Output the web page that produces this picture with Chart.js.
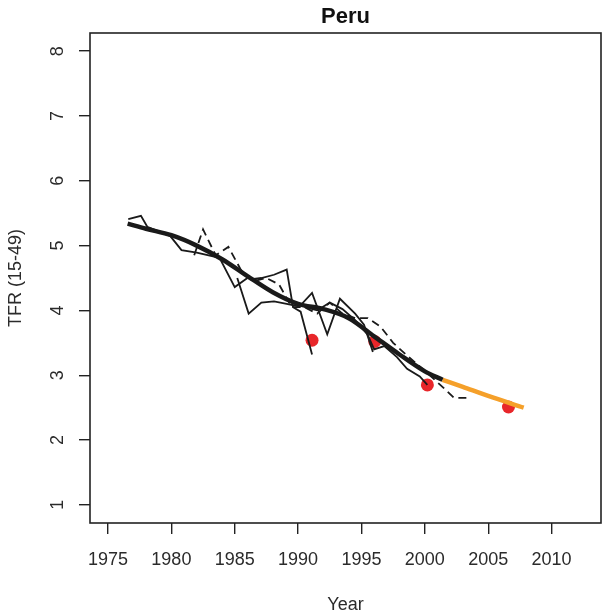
<!DOCTYPE html>
<html><head><meta charset="utf-8">
<script src="https://cdn.jsdelivr.net/npm/chart.js@4/dist/chart.umd.min.js"></script>
<style>html,body{margin:0;padding:0;background:#fff;overflow:hidden;}canvas{display:block;}</style>
</head><body>
<canvas id="c" width="602" height="612"></canvas>
<script>
const chartTitle = "Peru";
const xTitle = "Year";
const yTitle = "TFR (15-49)";
const xTicks = [1975, 1980, 1985, 1990, 1995, 2000, 2005, 2010];
const yTicks = [1, 2, 3, 4, 5, 6, 7, 8];

// thin solid survey series
const s1Years = [1976.6, 1977.6, 1978.1, 1979.9, 1980.8, 1982.0, 1983.8, 1985.0, 1986.0];
const s1Tfr   = [5.41, 5.46, 5.29, 5.15, 4.93, 4.89, 4.81, 4.36, 4.50];
const s2Years = [1986.2, 1987.1, 1988.1, 1989.1, 1989.6, 1990.2, 1991.1];
const s2Tfr   = [4.48, 4.50, 4.55, 4.63, 4.05, 3.98, 3.32];
const s3Years = [1985.2, 1986.1, 1987.1, 1988.1, 1989.1, 1990.1, 1991.1, 1992.3, 1993.3, 1994.5, 1995.2, 1995.9];
const s3Tfr   = [4.50, 3.95, 4.12, 4.14, 4.10, 4.06, 4.27, 3.63, 4.18, 3.95, 3.78, 3.36];
const s4Years = [1990.5, 1991.5, 1992.5, 1993.5, 1994.5, 1995.5, 1996.0, 1996.8, 1997.8, 1998.6, 1999.6, 2000.2];
const s4Tfr   = [4.05, 4.00, 4.12, 4.02, 3.85, 3.62, 3.40, 3.45, 3.28, 3.10, 2.98, 2.85];
// dashed series
const dYears = [1981.8, 1982.5, 1983.5, 1984.5, 1985.5, 1986.5, 1987.5, 1988.5, 1989.5, 1990.5, 1991.5, 1992.5, 1993.5, 1994.5, 1995.5, 1996.5, 1997.5, 1998.5, 1999.5, 2000.5, 2001.5, 2002.3, 2003.3];
const dTfr   = [4.85, 5.25, 4.85, 4.98, 4.62, 4.45, 4.50, 4.40, 4.05, 4.05, 3.95, 4.12, 3.95, 3.88, 3.88, 3.75, 3.50, 3.32, 3.15, 2.98, 2.80, 2.65, 2.65];
// smoothed estimate
const estYears = [1976.55, 1978, 1980, 1982, 1984, 1986, 1988, 1990, 1992, 1994, 1996, 1998, 2000, 2001.4];
const estTfr   = [5.34, 5.26, 5.16, 5.00, 4.79, 4.53, 4.28, 4.10, 4.02, 3.88, 3.60, 3.32, 3.06, 2.93];
// projection
const projYears = [2001.4, 2003, 2005, 2007.8];
const projTfr   = [2.93, 2.82, 2.68, 2.50];
// survey point estimates
const ptYears = [1991.1, 1996.05, 2000.2, 2006.6];
const ptTfr   = [3.54, 3.52, 2.85, 2.51];

const FONT = '"Liberation Sans", Arial, sans-serif';
const pts = (xs, ys) => xs.map((x, i) => ({x: x, y: ys[i]}));
const thin = (xs, ys, dash) => ({type: 'line', data: pts(xs, ys), borderColor: '#1a1a1a', borderWidth: 1.8,
  borderDash: dash || [], pointRadius: 0, tension: 0, fill: false});

const framePlugin = {
  id: 'frame',
  afterDraw(chart) {
    const ctx = chart.ctx, a = chart.chartArea, xs = chart.scales.x, ys = chart.scales.y;
    ctx.save();
    ctx.strokeStyle = '#222';
    ctx.lineWidth = 1.6;
    ctx.strokeRect(a.left, a.top, a.right - a.left, a.bottom - a.top);
    ctx.fillStyle = '#2b2b2b';
    ctx.font = '18px ' + FONT;
    ctx.textAlign = 'center';
    ctx.textBaseline = 'alphabetic';
    xTicks.forEach(v => {
      ctx.fillText(String(v), xs.getPixelForValue(v), 565);
    });
    yTicks.forEach(v => {
      const py = ys.getPixelForValue(v);
      ctx.save();
      ctx.translate(63, py);
      ctx.rotate(-Math.PI / 2);
      ctx.fillText(String(v), 0, 0);
      ctx.restore();
    });
    ctx.fillText(xTitle, (a.left + a.right) / 2, 610);
    ctx.save();
    ctx.translate(21, (a.top + a.bottom) / 2);
    ctx.rotate(-Math.PI / 2);
    ctx.fillText(yTitle, 0, 0);
    ctx.restore();
    ctx.fillStyle = '#111';
    ctx.font = 'bold 22px ' + FONT;
    ctx.fillText(chartTitle, (a.left + a.right) / 2, 23);
    ctx.restore();
  }
};

new Chart(document.getElementById('c'), {
  data: {
    datasets: [
      thin(s1Years, s1Tfr),
      thin(s2Years, s2Tfr),
      thin(s3Years, s3Tfr),
      thin(s4Years, s4Tfr),
      thin(dYears, dTfr, [8, 5]),
      {type: 'line', data: pts(estYears, estTfr), borderColor: '#1a1a1a', borderWidth: 4.5, pointRadius: 0,
        tension: 0.4, cubicInterpolationMode: 'monotone', fill: false},
      {type: 'line', data: pts(projYears, projTfr), borderColor: '#f5a02a', borderWidth: 4.5, pointRadius: 0,
        tension: 0.4, cubicInterpolationMode: 'monotone', fill: false},
      {type: 'scatter', data: pts(ptYears, ptTfr), backgroundColor: '#e8262a', borderColor: '#e8262a',
        pointRadius: 6.5, borderWidth: 0}
    ]
  },
  options: {
    responsive: false,
    animation: false,
    events: [],
    layout: {autoPadding: false, padding: {top: 33, right: 1, left: 0, bottom: 0}},
    plugins: {legend: {display: false}, tooltip: {enabled: false}, title: {display: false}},
    scales: {
      x: {
        type: 'linear', min: 1973.58, max: 2013.9,
        afterBuildTicks: s => { s.ticks = xTicks.map(v => ({value: v})); },
        afterFit: s => { s.height = 89; s.paddingLeft = 0; s.paddingRight = 0; },
        grid: {drawOnChartArea: false, drawTicks: true, tickLength: 11, color: '#222', lineWidth: 1.4},
        border: {display: false},
        ticks: {display: false}
      },
      y: {
        type: 'linear', min: 0.72, max: 8.28,
        afterBuildTicks: s => { s.ticks = yTicks.map(v => ({value: v})); },
        afterFit: s => { s.width = 90; s.paddingTop = 0; s.paddingBottom = 0; },
        grid: {drawOnChartArea: false, drawTicks: true, tickLength: 11, color: '#222', lineWidth: 1.4},
        border: {display: false},
        ticks: {display: false}
      }
    }
  },
  plugins: [framePlugin]
});
</script>
</body></html>
